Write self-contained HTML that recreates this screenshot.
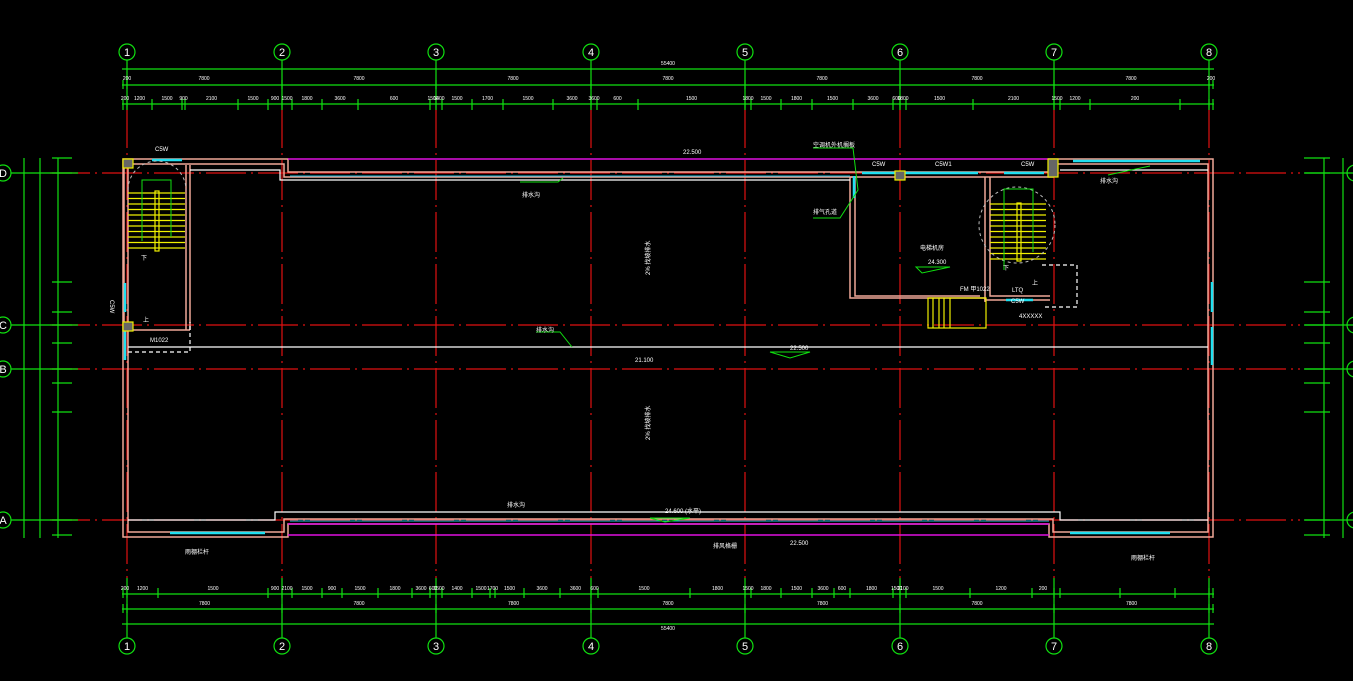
<!DOCTYPE html>
<html><head><meta charset="utf-8">
<style>
html,body{margin:0;padding:0;background:#000;overflow:hidden}
svg{display:block}
text{font-family:"Liberation Sans","Noto Sans CJK SC",sans-serif;fill:#fff}
</style></head>
<body>
<svg id="s" width="1353" height="681" viewBox="0 0 1353 681" xmlns="http://www.w3.org/2000/svg">
<rect width="1353" height="681" fill="#000"/>
<g id="grid" stroke="#e01010" stroke-width="1.2" stroke-dasharray="40,5,2,5"></g>
<g id="dims" stroke="#10e010" stroke-width="1.2" fill="none"></g>
<!-- building outline -->
<g fill="none" stroke="#f0a898" stroke-width="1.5">
  <path d="M123,159 H288 V172 H1049 V159 H1213 V537 H1049 V524 H288 V537 H123 Z"/>
  <path d="M128,164 H284 V177 H1053 V164 H1208 V532 H1053 V519 H284 V532 H128 Z"/>
  <path d="M850,177 V298 H985 V302 M850,177 H855 V296 H980"/>
  <path d="M985,177 V300 H1050 M990,177 V296 H1050"/>
  <path d="M124,165 V330 M190,165 V330 M186,165 V330 M128,330 H190"/>
</g>
<g fill="none" stroke="#ffffff" stroke-width="1.2">
  <path d="M190,170 H280 V180 H850"/>
  <path d="M1060,170 H1208"/>
  <path d="M128,347 H1208"/>
  <path d="M128,520 H275 V512 H1060 V520 H1208" />
  <path d="M128,352 H190 V322" stroke-dasharray="4,3"/>
  <path d="M1042,265 H1077 V307 H1042" stroke-dasharray="4,3"/>
</g>
<g stroke="#e010e0" stroke-width="1.5">
  <line x1="288" y1="159" x2="1049" y2="159"/>
  <line x1="288" y1="524" x2="1049" y2="524"/>
  <line x1="288" y1="535" x2="1049" y2="535"/>
</g>
<g stroke="#20e0f0" stroke-width="2.5">
  <line x1="152" y1="160" x2="182" y2="160"/>
  <line x1="862" y1="173" x2="978" y2="173"/>
  <line x1="1004" y1="173" x2="1044" y2="173"/>
  <line x1="1073" y1="161" x2="1200" y2="161"/>
  <line x1="125" y1="283" x2="125" y2="312"/>
  <line x1="125" y1="330" x2="125" y2="360"/>
  <line x1="1212" y1="282" x2="1212" y2="312"/>
  <line x1="1212" y1="327" x2="1212" y2="365"/>
  <line x1="170" y1="533" x2="265" y2="533"/>
  <line x1="1070" y1="533" x2="1170" y2="533"/>
  <line x1="1006" y1="300" x2="1033" y2="300"/>
  <line x1="854" y1="176" x2="854" y2="198"/>
  <line x1="290" y1="521" x2="1049" y2="521" stroke="#20c0e0" stroke-width="1"/>
  <line x1="290" y1="176" x2="850" y2="176" stroke="#20c0e0" stroke-width="1"/>
</g>
<!-- stairs -->
<g stroke="#f0f000" stroke-width="1.2" fill="none">
  <g id="st1"></g>
  <rect x="155" y="191" width="4" height="60"/>
  <rect x="123" y="159" width="10" height="9" fill="#666"/>
  <rect x="123" y="322" width="10" height="9" fill="#666"/>
  <rect x="895" y="171" width="10" height="9" fill="#666"/>
  <rect x="1048" y="159" width="10" height="18" fill="#666"/>
  <rect x="1017" y="203" width="4" height="58"/>
  <rect x="928" y="298" width="58" height="30"/>
  <path d="M933,298 V328 M939,298 V328 M944,298 V328 M950,298 V328"/>
</g>
<g stroke="#bbbbbb" stroke-width="1" fill="none" stroke-dasharray="3,3">
  <path d="M128,190 A29,29 0 0 1 186,190"/>
  <circle cx="1017" cy="225" r="38"/>
</g>
<g stroke="#10e010" stroke-width="1" fill="none">
  <path d="M142,241 V180 H171 V237"/>
  <path d="M1004,270 V189 H1033 V252"/>
  <path d="M813,148 H853 L858,190 L840,218 H813"/>
  <path d="M770,352 H810 L790,358 Z M916,267 H950 L922,273 Z M650,518 H690 L665,522 Z M1108,175 L1150,166 M520,182 H558 L563,178 M536,332 H560 L572,347"/>
</g>
<g id="txt" font-size="6">
<text x="155" y="151">C5W</text>
<text x="683" y="154">22.500</text>
<text x="813" y="147">空调机外机搁板</text>
<text x="872" y="166">C5W</text>
<text x="935" y="166">C5W1</text>
<text x="1021" y="166">C5W</text>
<text x="1100" y="183">排水沟</text>
<text x="522" y="197">排水沟</text>
<text x="813" y="214">排气孔道</text>
<text x="920" y="250">电梯机房</text>
<text x="928" y="264">24.300</text>
<text x="536" y="332">排水沟</text>
<text x="790" y="350">22.500</text>
<text x="635" y="362">21.100</text>
<text x="507" y="507">排水沟</text>
<text x="665" y="513">24.600 (水平)</text>
<text x="713" y="548">排风格栅</text>
<text x="790" y="545">22.500</text>
<text x="185" y="554">雨棚栏杆</text>
<text x="1131" y="560">雨棚栏杆</text>
<text x="141" y="260">下</text>
<text x="143" y="322">上</text>
<text x="150" y="342">M1022</text>
<text x="1003" y="270">下</text>
<text x="1032" y="285">上</text>
<text x="1012" y="292">LTQ</text>
<text x="960" y="291">FM 甲1022</text>
<text x="1019" y="318">4XXXXX</text>
<text x="1011" y="303">C5W</text>
<text x="110" y="300" transform="rotate(90 110 300)">C5W</text>
<text x="650" y="275" transform="rotate(-90 650 275)">2% 找坡排水</text>
<text x="650" y="440" transform="rotate(-90 650 440)">2% 找坡排水</text>
</g>
<g id="axes" font-size="11"></g>
<g id="dtxt" font-size="5"></g>
</svg>
<script>
var NS="http://www.w3.org/2000/svg";
function el(p,t,a,tx){var e=document.createElementNS(NS,t);for(var k in a)e.setAttribute(k,a[k]);if(tx)e.textContent=tx;document.getElementById(p).appendChild(e);return e;}
var cols=[127,282,436,591,745,900,1054,1209];
var rows=[173,325,369,520];
cols.forEach(function(x){el("grid","line",{x1:x,y1:108,x2:x,y2:578});});
rows.forEach(function(y){el("grid","line",{x1:50,y1:y,x2:1300,y2:y});});
// axis bubbles
var names=["1","2","3","4","5","6","7","8"];
cols.forEach(function(x,i){
 [[52,60,108],[646,578,638]].forEach(function(c){
  el("axes","circle",{cx:x,cy:c[0],r:8,stroke:"#10e010",fill:"none","stroke-width":1.2});
  el("dims","line",{x1:x,y1:c[1],x2:x,y2:c[2]});
  el("axes","text",{x:x,y:c[0]+4,"text-anchor":"middle"},names[i]);
 });
});
["D","C","B","A"].forEach(function(n,i){
 var y=rows[i];
 el("axes","circle",{cx:3,cy:y,r:8,stroke:"#10e010",fill:"none","stroke-width":1.2});
 el("axes","text",{x:3,y:y+4,"text-anchor":"middle"},n);
 el("dims","line",{x1:11,y1:y,x2:78,y2:y});
 el("axes","circle",{cx:1355,cy:y,r:8,stroke:"#10e010",fill:"none","stroke-width":1.2});
 el("dims","line",{x1:1305,y1:y,x2:1353,y2:y});
});
// horizontal dim lines
[69,85,104,594,609,624].forEach(function(y){el("dims","line",{x1:122,y1:y,x2:1214,y2:y});});
var fine=[123,127,152,182,185,238,268,282,292,322,358,430,436,442,472,503,553,591,597,638,745,751,781,812,853,893,900,906,973,1054,1060,1090,1180,1209,1213];
fine.forEach(function(x){el("dims","line",{x1:x,y1:99,x2:x,y2:110});});
var fineB=[123,127,158,268,282,292,322,342,378,412,430,436,442,472,490,495,524,560,591,598,690,745,751,781,812,834,850,893,900,906,970,1032,1054,1060,1120,1175,1209,1213];
fineB.forEach(function(x){el("dims","line",{x1:x,y1:588,x2:x,y2:598});});
[123,127,282,436,591,745,900,1054,1209,1213].forEach(function(x){el("dims","line",{x1:x,y1:80,x2:x,y2:89});el("dims","line",{x1:x,y1:604,x2:x,y2:613});});
// vertical dims
[24,40,58].forEach(function(x){el("dims","line",{x1:x,y1:158,x2:x,y2:538});});
[1324,1343].forEach(function(x){el("dims","line",{x1:x,y1:158,x2:x,y2:538});});
[158,173,282,312,325,343,369,383,412,520,535].forEach(function(y){el("dims","line",{x1:52,y1:y,x2:72,y2:y});el("dims","line",{x1:1304,y1:y,x2:1330,y2:y});});
// stair treads
for(var i=0;i<11;i++){el("st1","line",{x1:128,y1:193+i*5.5,x2:185,y2:193+i*5.5});el("st1","line",{x1:990,y1:204+i*5.5,x2:1046,y2:204+i*5.5});}
// dim text
function dt(x,y,t){el("dtxt","text",{x:x,y:y,"text-anchor":"middle"},t);}
dt(127,80,"200");dt(204,80,"7800");dt(359,80,"7800");dt(513,80,"7800");dt(668,80,"7800");dt(822,80,"7800");dt(977,80,"7800");dt(1131,80,"7800");dt(1211,80,"200");
dt(668,65,"55400");dt(668,630,"55400");
var lt=["200","1200","1500","900","2100","1500","900","1500","1800","3600","600","1500","1400","1500","1700","1500","3600","3600","600","1500","1800","1500","1800","1500","3600","600","1800","1500","2100","1500","1200","200"];
for(var i=0;i<fine.length-1&&i<lt.length;i++){dt((fine[i]+fine[i+1])/2,100,lt[i]);}
for(var i=0;i<fineB.length-1&&i<lt.length;i++){dt((fineB[i]+fineB[i+1])/2,590,lt[i]);}
for(var i=0;i<7;i++){dt((cols[i]+cols[i+1])/2,605,i%2?"7800":"7800");}
</script>
</body></html>
